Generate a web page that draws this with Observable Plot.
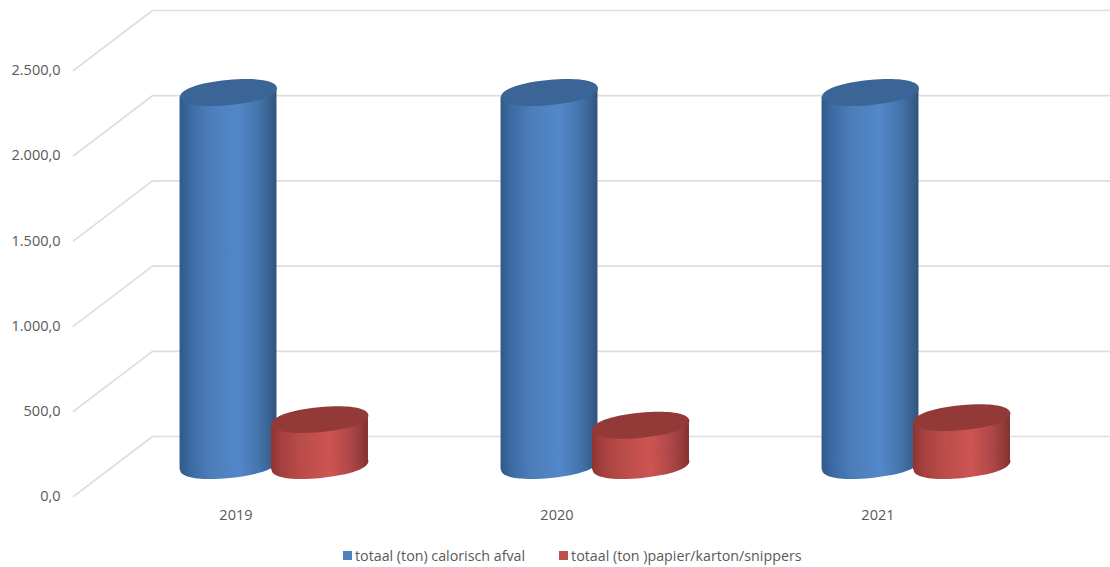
<!DOCTYPE html>
<html>
<head>
<meta charset="utf-8">
<script src="https://cdn.jsdelivr.net/npm/d3@7"></script>
<script src="https://cdn.jsdelivr.net/npm/@observablehq/plot@0.6"></script>
<style>
  html, body { margin: 0; padding: 0; background: #fff; }
  #legend { display: flex; height: 27px; margin-top: 2px; align-items: center; padding-left: 343px;
    font: 14.25px "Open Sans", sans-serif; color: #595959; }
  #legend span.item { display: inline-flex; align-items: center; margin-right: 34px; white-space: pre; }
  #legend i { width: 9px; height: 9px; margin-right: 3px; display: inline-block; }
</style>
</head>
<body>
<div id="chart"></div>
<div id="legend"></div>
<script>
const years = ["2019", "2020", "2021"];
const calorisch = [2189, 2189, 2189];
const papier = [269, 236, 281];
const seriesNames = ["totaal (ton) calorisch afval", "totaal (ton )papier/karton/snippers"];
const seriesColors = ["#4f81bd", "#c0504d"];
const yTicks = [0, 500, 1000, 1500, 2000, 2500];

const H = 540;
// 3-D projection constants, in data units
const depthX = 0.246, depthY = 352;
const floorMid = 182, halfW = 0.151, skew = 27;
const offsets = [0.4829, 0.7679];
const labelOffset = 0.506;
const wallEnd = 3.23;

const fmt = d3.formatLocale({decimal: ",", thousands: ".", grouping: [3], currency: ["", ""]}).format(",.1f");

const gridRows = yTicks.flatMap(v => [
  {g: v, x: 0, y: v},
  {g: v, x: depthX, y: v + depthY},
  {g: v, x: wallEnd, y: v + depthY}
]);

function ellipse(rx, ry) {
  const k = 0.6;
  return {draw(c) {
    c.moveTo(-rx, 0);
    c.bezierCurveTo(-rx, -k * ry, -k * rx, -ry, 0, -ry);
    c.bezierCurveTo(k * rx, -ry, rx, -k * ry, rx, 0);
    c.bezierCurveTo(rx, k * ry, k * rx, ry, 0, ry);
    c.bezierCurveTo(-k * rx, ry, -rx, k * ry, -rx, 0);
    c.closePath();
  }};
}
const disc = ellipse(48.6, 12.5);
const tilt = -5.5;

function cylinders(values, s, gradient, topFill) {
  const rows = values.map((v, i) => ({c: i + offsets[s], v}));
  const body = rows.flatMap((d, i) => [
    {i, x: d.c - halfW, y1: floorMid - skew, y2: floorMid + d.v - skew},
    {i, x: d.c + halfW, y1: floorMid + skew, y2: floorMid + d.v + skew}
  ]);
  return [
    Plot.areaY(body, {x: "x", y1: "y1", y2: "y2", z: "i", fill: gradient}),
    Plot.dot(rows, {x: "c", y: () => floorMid, symbol: disc, rotate: tilt, fill: gradient, r: 5}),
    Plot.dot(rows, {x: "c", y: d => floorMid + d.v, symbol: disc, rotate: tilt, fill: topFill, r: 5})
  ];
}

function gradientDef(id, stops) {
  const ns = "http://www.w3.org/2000/svg";
  const g = document.createElementNS(ns, "linearGradient");
  g.setAttribute("id", id);
  stops.forEach(([o, c]) => {
    const st = document.createElementNS(ns, "stop");
    st.setAttribute("offset", o);
    st.setAttribute("stop-color", c);
    g.appendChild(st);
  });
  return g;
}

const defs = () => {
  const ns = "http://www.w3.org/2000/svg";
  const d = document.createElementNS(ns, "defs");
  d.appendChild(gradientDef("blueG", [[0, "#2f5a88"], [0.1, "#3a6aa1"], [0.3, "#4c7db9"], [0.6, "#5387ca"], [0.8, "#4676ae"], [0.94, "#38608f"], [1, "#30537a"]]));
  d.appendChild(gradientDef("redG", [[0, "#8e3432"], [0.1, "#a5403e"], [0.3, "#b94c49"], [0.6, "#cd5451"], [0.8, "#b0484a"], [0.94, "#933a38"], [1, "#7f302e"]]));
  return d;
};

const chart = Plot.plot({
  width: 1110,
  height: H,
  marginLeft: 73,
  marginRight: 74,
  marginTop: 70,
  marginBottom: H - 496,
  style: {background: "transparent", overflow: "visible"},
  x: {type: "linear", domain: [0, 3], axis: null},
  y: {type: "linear", domain: [0, 2500], axis: null},
  marks: [
    defs,
    Plot.line(gridRows, {x: "x", y: "y", z: "g", stroke: "#dedede", strokeWidth: 1.7, curve: "linear"}),
    Plot.axisY({ticks: yTicks, tickSize: 0, tickPadding: 13, tickFormat: fmt, label: null, fontSize: 14.5, fontFamily: "Open Sans", color: "#595959"}),
    Plot.axisX({ticks: years.map((_, i) => i + labelOffset), tickSize: 0, tickPadding: 13, tickFormat: d => years[Math.round(d - labelOffset)], label: null, fontSize: 14.5, fontFamily: "Open Sans", color: "#595959"}),
    ...cylinders(calorisch, 0, "url(#blueG)", "#3b6596"),
    ...cylinders(papier, 1, "url(#redG)", "#933a38")
  ]
});
document.getElementById("chart").appendChild(chart);

const legend = document.getElementById("legend");
seriesNames.forEach((n, i) => {
  const s = document.createElement("span");
  s.className = "item";
  const sw = document.createElement("i");
  sw.style.background = seriesColors[i];
  s.appendChild(sw);
  s.appendChild(document.createTextNode(n));
  legend.appendChild(s);
});
</script>
</body>
</html>
